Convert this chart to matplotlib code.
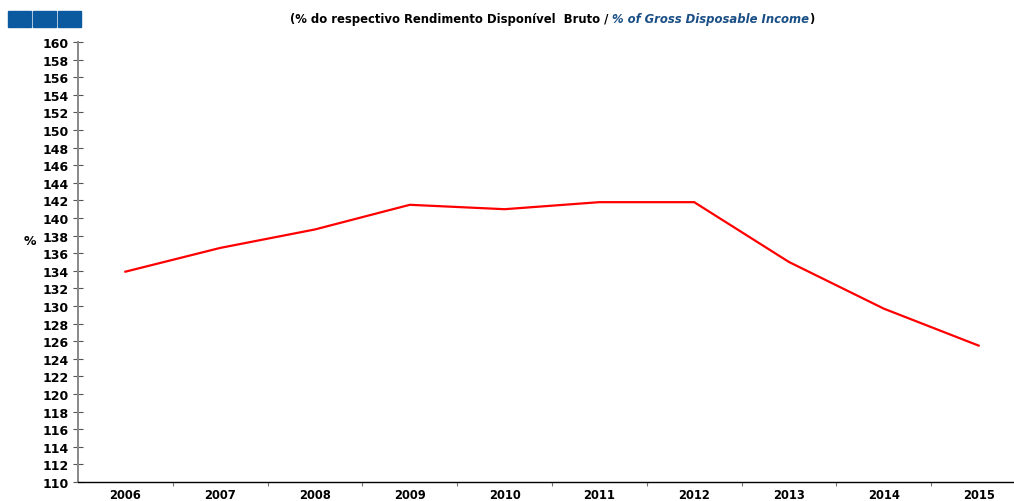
import matplotlib
matplotlib.use("Agg")
import matplotlib.pyplot as plt
from matplotlib.patches import Rectangle

years = ["2006", "2007", "2008", "2009", "2010", "2011", "2012", "2013", "2014", "2015"]
debt_ratio = [133.9, 136.6, 138.7, 141.5, 141.0, 141.8, 141.8, 135.0, 129.7, 125.5]
y_ticks = list(range(110, 161, 2))

plt.rcParams["font.family"] = ["DejaVu Sans"]

W, H = 1014, 502
fig = plt.figure(figsize=(W / 100, H / 100), dpi=100)
ax = fig.add_axes([78 / W, 1 - 483 / H, (1026 - 78) / W, (483 - 43) / H])

x = list(range(len(years)))
ax.plot(x, debt_ratio, color="#ff0000", lw=1.6, solid_joinstyle="miter")

ax.set_xlim(-0.5, len(years) - 0.5)
ax.set_ylim(110, 160)
ax.set_yticks(y_ticks)
ax.set_yticklabels([str(v) for v in y_ticks], fontweight="bold", fontsize=9)
ax.set_xticks(x)
ax.set_xticklabels(years, fontweight="bold", fontsize=8.3)
ax.set_xticks([i + 0.5 for i in x[:-1]], minor=True)

ax.tick_params(axis="y", which="major", direction="inout", length=7, width=0.8,
               color="#555555", pad=3)
ax.tick_params(axis="x", which="major", length=0, pad=4)
ax.tick_params(axis="x", which="minor", direction="out", length=3, width=0.8,
               color="#777777")

for side in ("top", "right"):
    ax.spines[side].set_visible(False)
ax.spines["left"].set_color("#888888")
ax.spines["left"].set_linewidth(1.4)
ax.spines["bottom"].set_color("#000000")
ax.spines["bottom"].set_linewidth(1.0)

ax.set_ylabel("%", rotation=0, fontweight="bold", fontsize=9)
ax.yaxis.set_label_coords(-48 / (1026 - 78), (483 - 248) / (483 - 43))

# header squares
for i in range(3):
    fig.patches.append(Rectangle(((8 + i * 25) / W, 1 - 28 / H), 23 / W, 16 / H,
                                 transform=fig.transFigure, color="#0b5aa0"))

# title built from three pieces
ty = 1 - 23 / H
t1 = fig.text(290 / W, ty, "(% do respectivo Rendimento Disponível  Bruto / ",
              fontweight="bold", fontsize=8.4, color="black")
t2 = fig.text(0, 0, "% of Gross Disposable Income", fontweight="bold", style="italic",
              fontsize=8.4, color="#1a4f86")
t3 = fig.text(0, 0, ")", fontweight="bold", fontsize=8.4, color="black")
fig.canvas.draw()
r = fig.canvas.get_renderer()
bb1 = t1.get_window_extent(r)
t2.set_position((bb1.x1 / W, ty))
fig.canvas.draw()
bb2 = t2.get_window_extent(r)
t3.set_position((bb2.x1 / W, ty))

fig.savefig("out.png", dpi=100)
